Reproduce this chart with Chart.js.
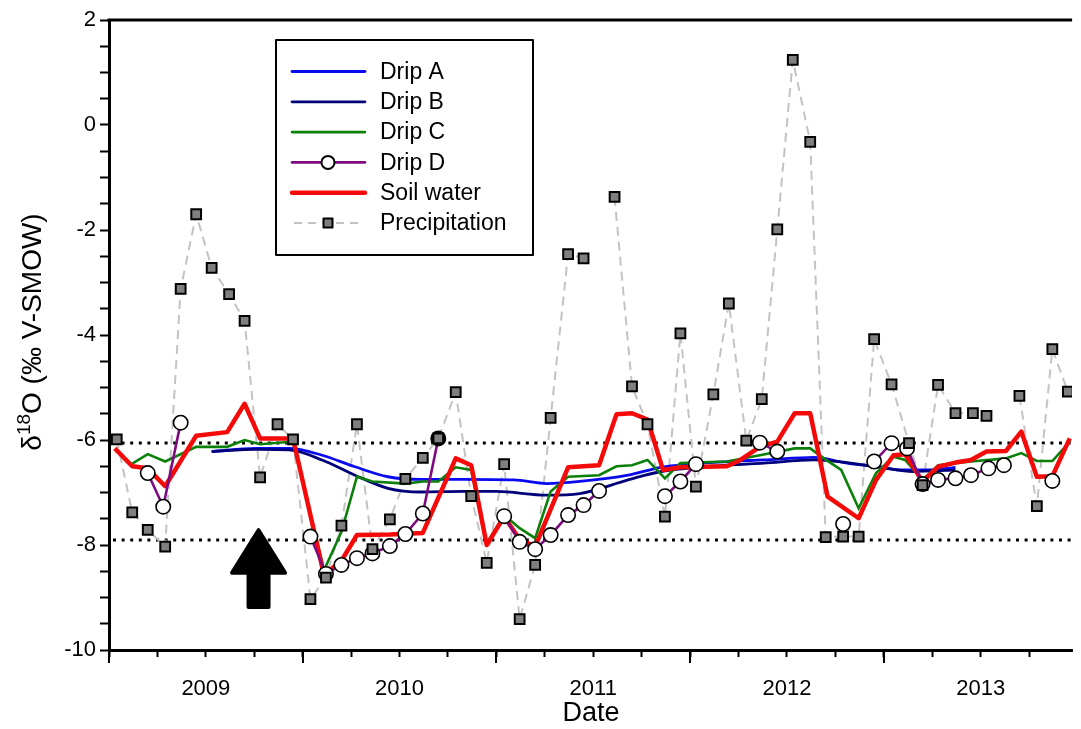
<!DOCTYPE html>
<html><head><meta charset="utf-8">
<script src="https://cdn.jsdelivr.net/npm/chart.js@4.4.0/dist/chart.umd.min.js"></script>
<style>html,body{margin:0;padding:0;background:#fff;overflow:hidden}#wrap{width:1081px;height:729px;position:relative}canvas{display:block}</style>
</head><body><div id="wrap"><canvas id="c" width="1081" height="729"></canvas></div>
<script>
const FONT = "'Liberation Sans', Arial, Helvetica, sans-serif";

// ---- axis ranges & labels ----
const xMin = 2009.0, xMax = 2013.972;
const yMin = -10, yMax = 2;
const yearLabels = ['2009', '2010', '2011', '2012', '2013'];
const yLabelValues = [2, 0, -2, -4, -6, -8, -10];
const xTitle = 'Date';
const yTitleParts = ['δ', '18', 'O (‰ V-SMOW)'];
const refLines = [-6.06, -7.9];
const arrowAt = 2009.772, arrowTip = -7.68, arrowHeadBase = -8.53, arrowBottom = -9.22;

// ---- series (decimal year, ‰) ----
const precipDates = [2009.04, 2009.12, 2009.20, 2009.29, 2009.37, 2009.45, 2009.53, 2009.62, 2009.70, 2009.78, 2009.87, 2009.95,
  2010.04, 2010.12, 2010.20, 2010.28, 2010.36, 2010.45, 2010.53, 2010.62, 2010.70, 2010.79, 2010.87, 2010.95,
  2011.04, 2011.12, 2011.20, 2011.28, 2011.37, 2011.45, 2011.53, 2011.61, 2011.70, 2011.78, 2011.87, 2011.95,
  2012.03, 2012.12, 2012.20, 2012.29, 2012.37, 2012.45, 2012.53, 2012.62, 2012.70, 2012.79, 2012.87, 2012.95,
  2013.04, 2013.13, 2013.20, 2013.28, 2013.37, 2013.46, 2013.53, 2013.62, 2013.70, 2013.79, 2013.87, 2013.95];
const precipValues = [-5.99, -7.38, -7.71, -8.03, -3.12, -1.70, -2.72, -3.22, -3.73, -6.71, -5.70, -5.99,
  -9.03, -8.62, -7.63, -5.70, -8.08, -7.51, -6.74, -6.34, -5.97, -5.09, -7.07, -8.34,
  -6.46, -9.41, -8.38, -5.58, -2.46, -2.54, null, -1.37, -4.98, -5.70, -7.46, -3.97,
  -6.89, -5.13, -3.40, -6.01, -5.22, -1.99, 1.24, -0.32, -7.85, -7.84, -7.84, -4.08,
  -4.94, -6.06, -6.86, -4.95, -5.49, -5.49, -5.54, null, -5.16, -7.26, -4.27, -5.08];

const dripADates = [2009.53, 2009.76, 2009.93, 2010.10, 2010.27, 2010.44, 2010.61, 2010.83, 2011.09, 2011.26, 2011.43, 2011.68, 2011.85, 2012.19, 2012.38, 2012.64, 2012.81, 2012.98, 2013.08, 2013.23, 2013.37];
const dripAValues = [-6.22, -6.16, -6.16, -6.29, -6.51, -6.70, -6.75, -6.75, -6.76, -6.83, -6.79, -6.67, -6.52, -6.41, -6.38, -6.33, -6.44, -6.51, -6.57, -6.57, -6.52];

const dripBDates = [2009.53, 2009.76, 2009.93, 2010.10, 2010.27, 2010.44, 2010.61, 2010.83, 2011.00, 2011.26, 2011.43, 2011.68, 2011.85, 2012.19, 2012.38, 2012.64, 2012.98, 2013.15, 2013.32, 2013.37];
const dripBValues = [-6.22, -6.18, -6.19, -6.38, -6.67, -6.92, -6.99, -6.98, -6.98, -7.05, -7.02, -6.76, -6.60, -6.48, -6.44, -6.38, -6.52, -6.60, -6.58, -6.57];

const dripCDates = [2009.12, 2009.20, 2009.29, 2009.45, 2009.61, 2009.70, 2009.78, 2009.95, 2010.11, 2010.20, 2010.28, 2010.36, 2010.53, 2010.62, 2010.70, 2010.79, 2010.87, 2010.95,
  2011.04, 2011.12, 2011.20, 2011.28, 2011.37, 2011.53, 2011.62, 2011.70, 2011.78, 2011.87, 2011.95, 2012.19, 2012.36, 2012.54, 2012.62, 2012.69, 2012.78, 2012.87, 2012.96,
  2013.05, 2013.11, 2013.20, 2013.28, 2013.45, 2013.63, 2013.71, 2013.79, 2013.87, 2013.96];
const dripCValues = [-6.45, -6.27, -6.41, -6.13, -6.13, -6.00, -6.08, -6.03, -8.48, -7.75, -6.70, -6.79, -6.83, -6.79, -6.79, -6.52, -6.57, -7.97,
  -7.43, -7.68, -7.87, -6.98, -6.70, -6.67, -6.50, -6.48, -6.38, -6.73, -6.44, -6.41, -6.29, -6.16, -6.16, -6.35, -6.57, -7.30, -6.63,
  -6.32, -6.38, -6.76, -6.48, -6.41, -6.35, -6.25, -6.40, -6.40, -6.03];

const dripDDates = [2009.20, 2009.28, 2009.37, 2009.70,
  2010.04, 2010.12, 2010.20, 2010.28, 2010.36, 2010.45, 2010.53, 2010.62, 2010.70, 2010.85,
  2011.04, 2011.12, 2011.20, 2011.28, 2011.37, 2011.45, 2011.53, 2011.70,
  2011.87, 2011.95, 2012.03, 2012.20, 2012.36, 2012.45, 2012.60, 2012.79, 2012.87,
  2012.95, 2013.04, 2013.12, 2013.20, 2013.28, 2013.37, 2013.45, 2013.54, 2013.62, 2013.75, 2013.87];
const dripDValues = [-6.63, -7.27, -5.67, null,
  -7.84, -8.55, -8.38, -8.25, -8.16, -8.02, -7.79, -7.40, -5.97, null,
  -7.45, -7.94, -8.08, -7.81, -7.43, -7.24, -6.97, null,
  -7.07, -6.79, -6.46, null, -6.05, -6.22, null, -7.60, null,
  -6.41, -6.06, -6.16, -6.84, -6.76, -6.73, -6.67, -6.54, -6.48, null, -6.78];
const dripDFilledDate = 2010.70;

const soilDates = [2009.03, 2009.12, 2009.20, 2009.29, 2009.45, 2009.61, 2009.70, 2009.78, 2009.95, 2010.11, 2010.20, 2010.28, 2010.45, 2010.62, 2010.79, 2010.87, 2010.95,
  2011.04, 2011.12, 2011.20, 2011.37, 2011.53, 2011.62, 2011.70, 2011.78, 2011.86, 2011.95, 2012.19, 2012.26, 2012.36, 2012.45, 2012.54, 2012.62, 2012.71, 2012.87, 2012.96,
  2013.05, 2013.11, 2013.20, 2013.28, 2013.37, 2013.45, 2013.53, 2013.63, 2013.71, 2013.79, 2013.87, 2013.96];
const soilValues = [-6.16, -6.50, -6.54, -6.88, -5.92, -5.85, -5.31, -5.97, -5.97, -8.57, -8.30, -7.81, -7.80, -7.77, -6.35, -6.48, -8.00,
  -7.46, -7.89, -8.03, -6.52, -6.48, -5.51, -5.49, -5.61, -6.57, -6.52, -6.50, -6.38, -6.13, -6.03, -5.49, -5.49, -7.08, -7.49, -6.76,
  -6.29, -6.27, -6.79, -6.51, -6.43, -6.38, -6.22, -6.21, -5.84, -6.70, -6.69, -5.97];

const seriesNames = ['Drip A', 'Drip B', 'Drip C', 'Drip D', 'Soil water', 'Precipitation'];
const colors = { a: '#0a0af0', b: '#00007a', c: '#0b800b', d: '#7e0a80', soil: '#f50a0a', precipLine: '#c3c3c3', precipFill: '#7f7f7f' };

const pts = (xs, ys) => xs.map((x, i) => ({ x: x, y: ys[i] }));

// ---- plugins ----
const decor = {
  id: 'decor',
  beforeDatasetsDraw(chart) {
    const { ctx, chartArea: a, scales: { x, y } } = chart;
    ctx.save();
    ctx.strokeStyle = '#000';
    ctx.lineWidth = 3;
    ctx.setLineDash([3, 5.6]);
    refLines.forEach(v => {
      const py = Math.round(y.getPixelForValue(v));
      ctx.beginPath(); ctx.moveTo(a.left + 4, py); ctx.lineTo(a.right, py); ctx.stroke();
    });
    ctx.restore();
  },
  afterDraw(chart) {
    const { ctx, chartArea: a, scales: { x, y } } = chart;
    ctx.save();
    // top frame
    ctx.strokeStyle = '#000'; ctx.lineWidth = 3;
    ctx.beginPath(); ctx.moveTo(a.left - 1.5, a.top); ctx.lineTo(a.right, a.top); ctx.stroke();
    // long year ticks
    ctx.lineWidth = 2;
    for (let yr = Math.ceil(xMin); yr <= xMax; yr++) {
      const px = Math.round(x.getPixelForValue(yr));
      ctx.beginPath(); ctx.moveTo(px, a.bottom); ctx.lineTo(px, a.bottom + 13); ctx.stroke();
    }
    // arrow
    const ax = x.getPixelForValue(arrowAt);
    const t = y.getPixelForValue(arrowTip), hb = y.getPixelForValue(arrowHeadBase), bt = y.getPixelForValue(arrowBottom);
    ctx.fillStyle = '#000'; ctx.lineWidth = 4; ctx.lineJoin = 'round';
    ctx.beginPath();
    ctx.moveTo(ax, t + 2);
    ctx.lineTo(ax + 26.5, hb); ctx.lineTo(ax + 10, hb); ctx.lineTo(ax + 10, bt - 2);
    ctx.lineTo(ax - 10, bt - 2); ctx.lineTo(ax - 10, hb); ctx.lineTo(ax - 26.5, hb);
    ctx.closePath(); ctx.fill(); ctx.stroke();

    // legend
    const L = 276, T = 40, R = 533, B = 255;
    ctx.fillStyle = '#fff'; ctx.fillRect(L, T, R - L, B - T);
    ctx.strokeStyle = '#000'; ctx.lineWidth = 2; ctx.strokeRect(L, T, R - L, B - T);
    const ds = chart.data.datasets;
    const legendSets = [ds[1], ds[2], ds[3], ds[5], ds[4], ds[6]];
    const x0 = 292, x1 = 365, xm = 328, tx = 380;
    ctx.font = '23px ' + FONT; ctx.textBaseline = 'middle'; ctx.textAlign = 'left';
    seriesNames.forEach((name, i) => {
      const ly = 71.5 + i * 30.3;
      const d = legendSets[i];
      ctx.save();
      if (i === 5) {
        ctx.strokeStyle = colors.precipLine; ctx.lineWidth = 2; ctx.setLineDash([8, 6]);
        ctx.beginPath(); ctx.moveTo(x0 + 2, ly); ctx.lineTo(x1 - 4, ly); ctx.stroke();
        ctx.setLineDash([]);
        ctx.fillStyle = colors.precipFill; ctx.strokeStyle = '#000'; ctx.lineWidth = 2;
        ctx.fillRect(xm - 4.5, ly - 4.5, 9, 9); ctx.strokeRect(xm - 4.5, ly - 4.5, 9, 9);
      } else {
        ctx.strokeStyle = d.borderColor; ctx.lineWidth = d.borderWidth; ctx.lineCap = 'round';
        ctx.beginPath(); ctx.moveTo(x0, ly); ctx.lineTo(x1, ly); ctx.stroke();
        if (i === 3) {
          ctx.fillStyle = '#fff'; ctx.strokeStyle = '#000'; ctx.lineWidth = 2;
          ctx.beginPath(); ctx.arc(xm, ly, 6.5, 0, Math.PI * 2); ctx.fill(); ctx.stroke();
        }
      }
      ctx.restore();
      ctx.fillStyle = '#000';
      ctx.fillText(name, tx, ly + 1);
    });

    // axis titles
    ctx.fillStyle = '#000';
    ctx.font = '27px ' + FONT; ctx.textAlign = 'center'; ctx.textBaseline = 'middle';
    ctx.fillText(xTitle, 591, 714);
    ctx.save();
    ctx.translate(31, 332); ctx.rotate(-Math.PI / 2);
    const big = '28px ' + FONT, small = '19px ' + FONT;
    ctx.font = big; const w0 = ctx.measureText(yTitleParts[0]).width, w2 = ctx.measureText(yTitleParts[2]).width;
    ctx.font = small; const w1 = ctx.measureText(yTitleParts[1]).width;
    let sx = -(w0 + w1 + w2) / 2;
    ctx.textAlign = 'left'; ctx.textBaseline = 'alphabetic';
    ctx.font = big; ctx.fillText(yTitleParts[0], sx, 10); sx += w0;
    ctx.font = small; ctx.fillText(yTitleParts[1], sx, -1); sx += w1;
    ctx.font = big; ctx.fillText(yTitleParts[2], sx, 10);
    ctx.restore();
    ctx.restore();
  }
};

const chart = new Chart(document.getElementById('c'), {
  type: 'scatter',
  data: {
    datasets: [
      { label: 'Precipitation line', data: pts(precipDates, precipValues), showLine: true, spanGaps: false,
        borderColor: colors.precipLine, borderWidth: 2, borderDash: [9, 6], pointRadius: 0, order: 10 },
      { label: 'Drip A', data: pts(dripADates, dripAValues), showLine: true, borderColor: colors.a, borderWidth: 2.8,
        pointRadius: 0, cubicInterpolationMode: 'monotone', order: 9 },
      { label: 'Drip B', data: pts(dripBDates, dripBValues), showLine: true, borderColor: colors.b, borderWidth: 2.8,
        pointRadius: 0, cubicInterpolationMode: 'monotone', order: 8 },
      { label: 'Drip C', data: pts(dripCDates, dripCValues), showLine: true, borderColor: colors.c, borderWidth: 2.6,
        pointRadius: 0, order: 7 },
      { label: 'Soil water', data: pts(soilDates, soilValues), showLine: true, borderColor: colors.soil, borderWidth: 4.5,
        pointRadius: 0, borderJoinStyle: 'round', order: 6 },
      { label: 'Drip D', data: pts(dripDDates, dripDValues), showLine: true, spanGaps: false, borderColor: colors.d, borderWidth: 2.6,
        pointRadius: 7.2, pointBorderWidth: 1.6, pointBorderColor: '#000',
        pointBackgroundColor: c => (c.raw && c.raw.x === dripDFilledDate) ? '#000' : '#fff', order: 5 },
      { label: 'Precipitation', data: pts(precipDates, precipValues), showLine: false,
        pointStyle: 'rect', pointRadius: 6.9, pointBorderWidth: 2, pointBorderColor: '#000',
        pointBackgroundColor: colors.precipFill, order: 4 }
    ]
  },
  options: {
    responsive: false, animation: false, devicePixelRatio: 1,
    layout: { padding: { top: 20, right: 0, left: 0, bottom: 0 } },
    plugins: { legend: { display: false }, tooltip: { enabled: false } },
    scales: {
      x: {
        type: 'linear', position: 'bottom', min: xMin, max: xMax,
        border: { display: true, color: '#000', width: 3 },
        grid: { drawOnChartArea: false, drawTicks: true, tickLength: 7, tickWidth: 2, tickColor: '#000' },
        ticks: {
          stepSize: 0.25, includeBounds: false, autoSkip: false, maxRotation: 0, minRotation: 0, padding: 19, color: '#000',
          font: { family: FONT, size: 22 },
          callback: v => {
            const f = v - Math.floor(v);
            if (Math.abs(f - 0.5) < 1e-6) {
              const idx = Math.floor(v) - Math.ceil(xMin);
              return yearLabels[idx] !== undefined ? yearLabels[idx] : '';
            }
            return '';
          }
        },
        afterFit: s => { s.height = 79; }
      },
      y: {
        type: 'linear', position: 'left', min: yMin, max: yMax,
        border: { display: true, color: '#000', width: 3 },
        grid: { drawOnChartArea: false, drawTicks: true, tickLength: 9, tickWidth: 2, tickColor: '#000' },
        ticks: {
          stepSize: 0.5, autoSkip: false, padding: 4, color: '#000',
          font: { family: FONT, size: 22 },
          callback: v => yLabelValues.includes(v) ? String(v) : ''
        },
        afterFit: s => { s.width = 109; }
      }
    }
  },
  plugins: [decor]
});
</script>
</body></html>
